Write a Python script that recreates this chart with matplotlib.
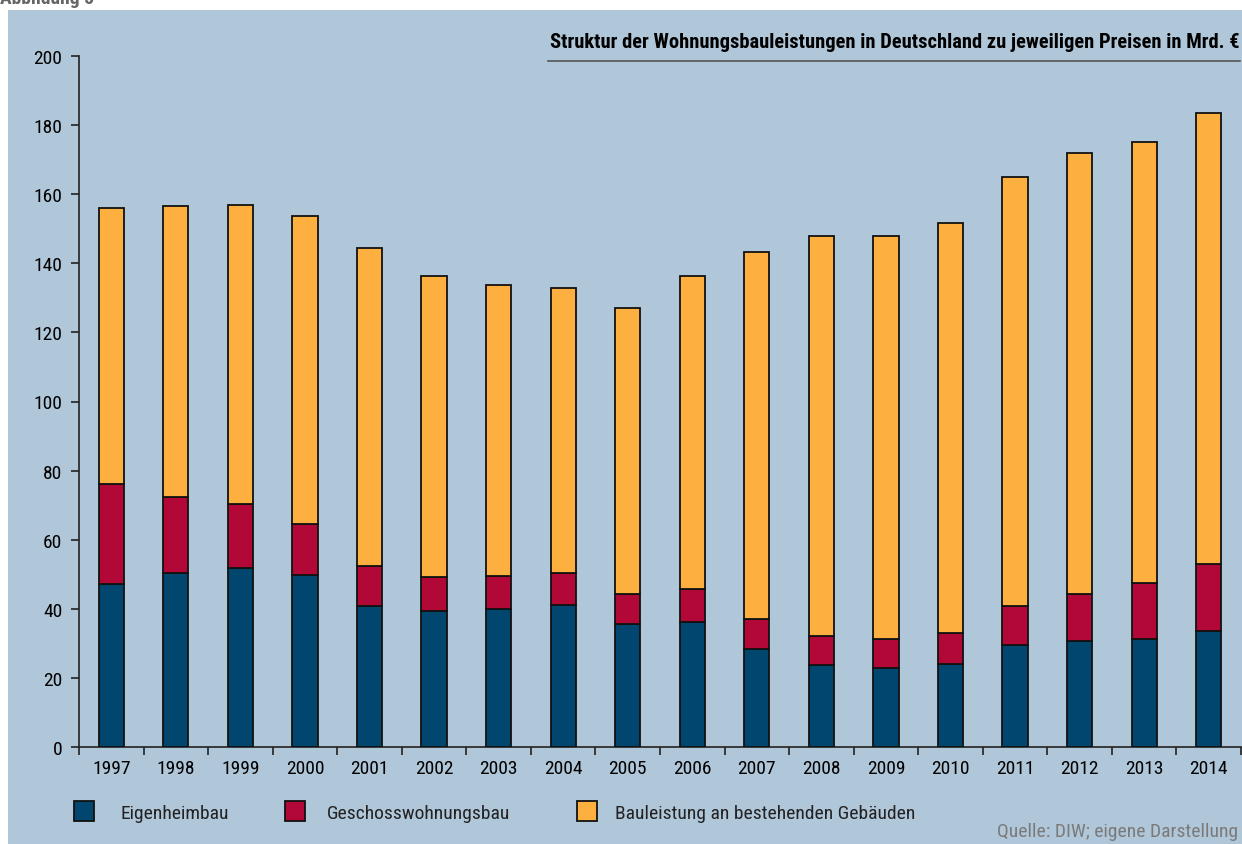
import matplotlib
matplotlib.use('Agg')
import numpy as np
from matplotlib import pyplot as plt
from matplotlib import font_manager
from matplotlib.patches import Rectangle

years = ['1997', '1998', '1999', '2000', '2001', '2002', '2003', '2004', '2005',
         '2006', '2007', '2008', '2009', '2010', '2011', '2012', '2013', '2014']
# Mrd. EUR (bottom, top of red, top of bar)
eigenheim = [47.1, 50.5, 51.9, 49.7, 40.8, 39.3, 39.9, 41.2, 35.6,
             36.2, 28.4, 23.7, 23.0, 24.1, 29.5, 30.7, 31.2, 33.6]
red_top = [76.0, 72.5, 70.3, 64.5, 52.4, 49.1, 49.4, 50.5, 44.2,
           45.8, 37.0, 32.1, 31.2, 32.9, 40.9, 44.2, 47.6, 52.9]
total = [156.0, 156.6, 157.0, 153.7, 144.5, 136.3, 133.6, 132.9, 127.1,
         136.2, 143.4, 148.0, 148.0, 151.7, 164.9, 171.8, 175.1, 183.4]
geschoss = [r - e for r, e in zip(red_top, eigenheim)]
bestand = [t - r for t, r in zip(total, red_top)]

names = ['Eigenheimbau', 'Geschosswohnungsbau', 'Bauleistung an bestehenden Gebäuden']
colors = ['#00466E', '#B20838', '#FDB040']
bg = '#B0C6D9'

# pick a narrow font if there is one
installed = set(f.name for f in font_manager.fontManager.ttflist)
narrow = None
for cand in ['Liberation Sans Narrow', 'Roboto Condensed', 'Open Sans Condensed', 'Arial Narrow']:
    if cand in installed:
        narrow = cand
        break
if narrow:
    plt.rcParams['font.family'] = [narrow, 'DejaVu Sans']
else:
    plt.rcParams['font.family'] = ['DejaVu Sans']
    plt.rcParams['font.stretch'] = 'condensed'

fig = plt.figure(figsize=(12.42, 8.45), dpi=100)
fig.patch.set_facecolor('white')
fig.patches.append(Rectangle((8 / 1242, 0), 1, 1 - 11 / 845, transform=fig.transFigure,
                             facecolor=bg, edgecolor='none', zorder=-10))
fig.text(0.0, 1 - 4 / 845, 'Abbildung 5', fontsize=14, fontweight='bold', color='#666666',
         ha='left', va='baseline')

ax = fig.add_axes([79 / 1242, 1 - 748 / 845, 1162 / 1242, (748 - 57) / 845])
ax.set_facecolor('none')

x = np.arange(len(years))
w = 0.39
bottom = np.zeros(len(years))
for vals, c in zip([eigenheim, geschoss, bestand], colors):
    ax.bar(x, vals, w, bottom=bottom, color=c, edgecolor='#111111', linewidth=1.3, zorder=3)
    bottom += np.array(vals)

ax.set_xlim(-0.5, len(years) - 0.5)
ax.set_ylim(0, 200)
ax.set_yticks(range(0, 201, 20))
ax.set_xticks(x)
ax.set_xticklabels(years)
ax.set_xticks(np.arange(-0.5, len(years), 1), minor=True)
for s in ['top', 'right']:
    ax.spines[s].set_visible(False)
for s in ['left', 'bottom']:
    ax.spines[s].set_color('#222222')
    ax.spines[s].set_linewidth(1.2)
ax.tick_params(axis='y', length=6, width=1.2, color='#222222', pad=6, labelsize=14)
ax.tick_params(axis='x', which='major', length=0, pad=9, labelsize=14)
ax.tick_params(axis='x', which='minor', length=6, width=1.2, color='#222222')

# title and rule
fig.text(1240 / 1242, 1 - 42 / 845, 'Struktur der Wohnungsbauleistungen in Deutschland zu jeweiligen Preisen in Mrd. €',
         fontsize=14.8, fontweight='bold', ha='right', va='center')
fig.add_artist(plt.Line2D([548 / 1242, 1240 / 1242], [1 - 62 / 845, 1 - 62 / 845],
                          color='#555555', linewidth=1.2, transform=fig.transFigure))

# legend
sq_x = [74, 285, 577]
tx_x = [120, 327, 615]
for n, c, sx, tx in zip(names, colors, sq_x, tx_x):
    fig.patches.append(Rectangle((sx / 1242, 1 - 822 / 845), 20 / 1242, 20 / 845,
                                 transform=fig.transFigure, facecolor=c,
                                 edgecolor='#111111', linewidth=1.3))
    fig.text(tx / 1242, 1 - 814 / 845, n, fontsize=14, color='#222222', ha='left', va='center')

fig.text(1238 / 1242, 1 - 832 / 845, 'Quelle: DIW; eigene Darstellung', fontsize=14,
         color='#7a7a7a', ha='right', va='center')

fig.savefig('out.png', dpi=100)
